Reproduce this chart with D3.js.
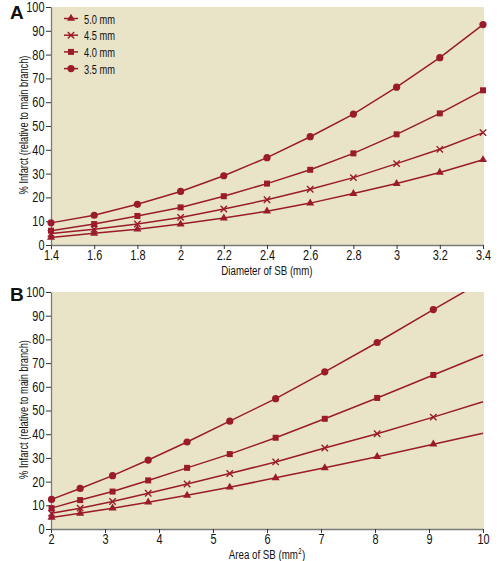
<!DOCTYPE html>
<html>
<head>
<meta charset="utf-8">
<script src="https://cdn.jsdelivr.net/npm/d3@7"></script>
<style>
  html, body { margin: 0; padding: 0; background: #fff; }
  svg { display: block; }
  text { font-family: "Liberation Sans", Arial, sans-serif; fill: #111; }
</style>
</head>
<body>
<svg id="chart" width="502" height="561"></svg>
<script>
// ---------- data ----------
const diameters = [1.4, 1.6, 1.8, 2.0, 2.2, 2.4, 2.6, 2.8, 3.0, 3.2, 3.4];
const areasSB   = [2.01, 2.54, 3.14, 3.80, 4.52, 5.31, 6.16, 7.07, 8.04, 9.08]; // areas for diameters 1.6 .. 3.4
const seriesNames = ["5.0 mm", "4.5 mm", "4.0 mm", "3.5 mm"];
const markerTypes = ["triangle", "cross", "square", "circle"];
const infarct50 = [3.2, 4.9, 6.6, 8.8, 11.3, 14.2, 17.6, 21.6, 25.8, 30.5, 35.8];
const infarct45 = [4.8, 6.6, 8.8, 11.6, 15.1, 19.0, 23.4, 28.3, 34.2, 40.2, 47.2];
const infarct40 = [6.0, 8.8, 12.2, 15.8, 20.5, 25.8, 31.6, 38.5, 46.5, 55.3, 65.0];
const infarct35 = [9.3, 12.5, 17.1, 22.5, 29.1, 36.7, 45.5, 55.0, 66.3, 78.7, 92.6];
// panel B: lines continue to the right edge (value read at area = 10)
const extAreaEnd = 10;
const extValueEnd = [40.4, 53.7, 73.5, 104.6];
const yTicks = [0, 10, 20, 30, 40, 50, 60, 70, 80, 90, 100];
const xTicksA = [1.4, 1.6, 1.8, 2.0, 2.2, 2.4, 2.6, 2.8, 3.0, 3.2, 3.4];
const xTicksB = [2, 3, 4, 5, 6, 7, 8, 9, 10];

const allSeries = [infarct50, infarct45, infarct40, infarct35];

// ---------- styles ----------
const RED = "#9a1b2c";
const BG = "#e9e4c8";
const AXIS = "#7a7a7a";
const FONT = 14;
const LFONT = 13.5;
const SX = 0.78; // horizontal condensing of tick text
const SXL = 0.72; // condensing of titles

const svg = d3.select("#chart");
const defs = svg.append("defs");

function condense(sel) {
  sel.each(function () {
    const t = d3.select(this);
    const x = +t.attr("x") || 0;
    t.attr("x", x / SX).attr("transform", `scale(${SX},1)`);
  });
}

function drawMarker(g, type, x, y) {
  if (type === "circle") {
    g.append("circle").attr("cx", x).attr("cy", y).attr("r", 3.6).attr("fill", RED);
  } else if (type === "square") {
    g.append("rect").attr("x", x - 3).attr("y", y - 3).attr("width", 6).attr("height", 6).attr("fill", RED);
  } else if (type === "triangle") {
    g.append("path").attr("d", d3.symbol().type(d3.symbolTriangle).size(28)()).attr("transform", `translate(${x},${y})`).attr("fill", RED);
  } else if (type === "cross") {
    g.append("path").attr("d", `M${x-3.2},${y-3.2}L${x+3.2},${y+3.2}M${x-3.2},${y+3.2}L${x+3.2},${y-3.2}`)
      .attr("stroke", RED).attr("stroke-width", 1.4).attr("fill", "none");
  }
}

// condensed title, optional superscript part then suffix; centered on cx
function title(g, cx, y, main, sup, suffix) {
  const tg = g.append("g");
  const inner = tg.append("g");
  const t1 = inner.append("text").attr("x", 0).attr("y", 0).attr("font-size", LFONT).text(main);
  let w = t1.node().getComputedTextLength();
  if (sup) {
    const t2 = inner.append("text").attr("x", w + 0.5).attr("y", -5.5).attr("font-size", 8.5).text(sup);
    w += t2.node().getComputedTextLength() + 0.8;
    const t3 = inner.append("text").attr("x", w).attr("y", 0).attr("font-size", LFONT).text(suffix);
    w += t3.node().getComputedTextLength();
  }
  tg.attr("transform", `translate(${cx - w * SXL / 2},${y}) scale(${SXL},1)`);
}

// text squeezed to a given length via scale transform
function fitText(g, transform, str, size, len, anchor) {
  const t = g.append("text").attr("font-size", size).attr("text-anchor", anchor).text(str);
  const w = t.node().getComputedTextLength();
  t.attr("transform", `${transform} scale(${len / w},1)`);
  return t;
}

function panel(opts) {
  const { x, y, xTicks, xFmt, xLabel, letter, letterY, id } = opts;
  const g = svg.append("g");
  const [x0, x1] = x.range();
  const [y0, y1] = y.range();

  g.append("rect").attr("x", x0).attr("y", y1).attr("width", x1 - x0 + 1).attr("height", y0 - y1).attr("fill", BG);

  defs.append("clipPath").attr("id", id).append("rect")
    .attr("x", x0 - 6).attr("y", y1).attr("width", x1 - x0 + 12).attr("height", y0 - y1 + 6);

  // axes
  const ax = g.append("g").attr("transform", `translate(0,${y0})`)
    .call(d3.axisBottom(x).tickValues(xTicks).tickFormat(xFmt).tickSize(4).tickPadding(1).tickSizeOuter(0));
  const ay = g.append("g").attr("transform", `translate(${x0},0)`)
    .call(d3.axisLeft(y).tickValues(yTicks).tickSize(5).tickPadding(1.5).tickSizeOuter(0));
  [ax, ay].forEach(a => {
    a.attr("font-family", null).attr("font-size", null);
    a.select(".domain").attr("stroke", AXIS).attr("stroke-width", 1.3);
    a.selectAll(".tick line").attr("stroke", "#333").attr("stroke-width", 1);
    a.selectAll("text").attr("font-size", FONT).attr("fill", "#111").call(condense);
  });

  title(g, (x0 + x1) / 2, y0 + 30, xLabel[0], xLabel[1], xLabel[2]);
  fitText(g, `translate(28,${(y0 + y1) / 2 - 1}) rotate(-90)`, "% Infarct (relative to main branch)", LFONT, 139, "middle");
  g.append("text").attr("x", 10).attr("y", letterY).attr("font-size", 19).attr("font-weight", "bold")
    .text(letter);

  return g;
}

// ---------- Panel A ----------
const xA = d3.scaleLinear().domain([1.4, 3.4]).range([51, 483]);
const yA = d3.scaleLinear().domain([0, 100]).range([245, 7]);
const gA = panel({ x: xA, y: yA, xTicks: xTicksA, xFmt: d => String(+d.toFixed(1)), xLabel: ["Diameter of SB (mm)"], letter: "A", letterY: 19, id: "clipA" });
const lineA = d3.line().x(d => xA(d[0])).y(d => yA(d[1]));
const plotA = gA.append("g").attr("clip-path", "url(#clipA)");
allSeries.forEach((vals, i) => {
  const pts = diameters.map((d, k) => [d, vals[k]]);
  plotA.append("path").attr("d", lineA(pts)).attr("fill", "none").attr("stroke", RED).attr("stroke-width", 1.5);
});
allSeries.forEach((vals, i) => {
  diameters.forEach((d, k) => drawMarker(gA, markerTypes[i], xA(d), yA(vals[k])));
});

// legend
const leg = gA.append("g");
seriesNames.forEach((name, i) => {
  const ly = 18.5 + i * 16.7;
  leg.append("line").attr("x1", 64).attr("x2", 78).attr("y1", ly).attr("y2", ly).attr("stroke", RED).attr("stroke-width", 1.5);
  drawMarker(leg, markerTypes[i], 71, ly);
  fitText(leg, `translate(84,${ly + 5})`, name, 13, 31, "start");
});

// ---------- Panel B ----------
const xB = d3.scaleLinear().domain([2, 10]).range([51, 483]);
const yB = d3.scaleLinear().domain([0, 100]).range([529, 292]);
const gB = panel({ x: xB, y: yB, xTicks: xTicksB, xFmt: d3.format("d"), xLabel: ["Area of SB (mm", "2", ")"], letter: "B", letterY: 301, id: "clipB" });
const lineB = d3.line().x(d => xB(d[0])).y(d => yB(d[1]));
const plotB = gB.append("g").attr("clip-path", "url(#clipB)");
allSeries.forEach((vals, i) => {
  const pts = areasSB.map((a, k) => [a, vals[k + 1]]);
  pts.push([extAreaEnd, extValueEnd[i]]);
  plotB.append("path").attr("d", lineB(pts)).attr("fill", "none").attr("stroke", RED).attr("stroke-width", 1.5);
});
allSeries.forEach((vals, i) => {
  areasSB.forEach((a, k) => drawMarker(gB, markerTypes[i], xB(a), yB(vals[k + 1])));
});
</script>
</body>
</html>
